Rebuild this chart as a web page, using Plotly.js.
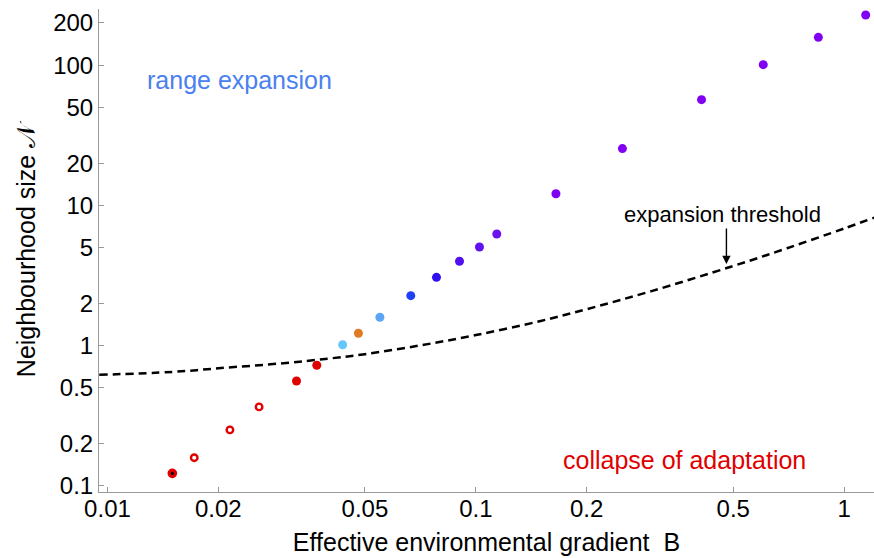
<!DOCTYPE html>
<html>
<head>
<meta charset="utf-8">
<script src="https://cdn.plot.ly/plotly-3.0.1.min.js"></script>
<style>html,body{margin:0;padding:0;background:#fff;}#chart{width:874px;height:558px;}</style>
</head>
<body>
<div id="chart"></div>
<script>
// Simulation points: effective environmental gradient B, neighbourhood size N
const gradientB = [0.0150, 0.0172, 0.0215, 0.0258, 0.0326, 0.0370, 0.0435, 0.0480, 0.0549, 0.0666,
                   0.0782, 0.0903, 0.1023, 0.114, 0.165, 0.250, 0.410, 0.603, 0.851, 1.144];
const neighbourhoodN = [0.123, 0.159, 0.251, 0.366, 0.560, 0.725, 1.016, 1.226, 1.594, 2.272,
                        3.07, 4.0, 5.05, 6.25, 12.1, 25.4, 56.7, 100.7, 157.8, 227.5];
const pointKind = ['core', 'open', 'open', 'open', 'filled', 'filled', 'filled', 'filled', 'filled', 'filled',
                   'filled', 'filled', 'filled', 'filled', 'filled', 'filled', 'filled', 'filled', 'filled', 'filled'];
const pointColor = ['#e00000', '#e00000', '#e00000', '#e00000', '#e00000', '#e00000', '#66c6ff', '#e07b22', '#5aa5f5', '#2040f5',
                    '#3010ee', '#5210f0', '#6210f0', '#6c10f0', '#7f00f3', '#7f00f3', '#7f00f3', '#7f00f3', '#7f00f3', '#7f00f3'];

// Expansion threshold curve
const thresholdB = [0.0095, 0.015, 0.02, 0.03, 0.04, 0.05, 0.07, 0.1, 0.15, 0.2, 0.3, 0.5, 0.7, 1.0, 1.21];
const thresholdN = [0.62, 0.65, 0.69, 0.75, 0.81, 0.87, 1.0, 1.19, 1.5, 1.82, 2.45, 3.7, 4.95, 6.85, 8.2];

const xTicks = [0.01, 0.02, 0.05, 0.1, 0.2, 0.5, 1];
const xTickText = ['0.01', '0.02', '0.05', '0.1', '0.2', '0.5', '1'];
const yTicks = [0.1, 0.2, 0.5, 1, 2, 5, 10, 20, 50, 100, 200];
const yTickText = ['0.1', '0.2', '0.5', '1', '2', '5', '10', '20', '50', '100', '200'];

function pick(arr, kind) { return arr.filter((_, i) => pointKind[i] === kind); }

const FONT = 'Liberation Sans, Arial, Helvetica, sans-serif';

const traces = [
  {
    x: thresholdB, y: thresholdN, mode: 'lines', type: 'scatter',
    line: {color: '#000', width: 2.5, dash: '8px,5px', shape: 'spline'},
    hoverinfo: 'skip'
  },
  {
    x: pick(gradientB, 'open'), y: pick(neighbourhoodN, 'open'), mode: 'markers', type: 'scatter',
    marker: {size: 6.5, color: '#ffffff', line: {color: pick(pointColor, 'open'), width: 2.4}}
  },
  {
    x: pick(gradientB, 'core'), y: pick(neighbourhoodN, 'core'), mode: 'markers', type: 'scatter',
    marker: {size: 6.5, color: '#000000', line: {color: pick(pointColor, 'core'), width: 3.2}}
  },
  {
    x: pick(gradientB, 'filled'), y: pick(neighbourhoodN, 'filled'), mode: 'markers', type: 'scatter',
    marker: {size: 9, color: pick(pointColor, 'filled'), line: {width: 0}}
  }
];

const layout = {
  width: 874, height: 558,
  margin: {l: 99, r: 0, t: 9, b: 66},
  paper_bgcolor: '#fff', plot_bgcolor: '#fff',
  showlegend: false,
  font: {family: FONT, color: '#000'},
  xaxis: {
    type: 'log', range: [-2.023, 0.081],
    tickvals: xTicks, ticktext: xTickText,
    ticks: 'inside', ticklen: 5, tickcolor: '#999', tickwidth: 1,
    ticklabelstandoff: -5,
    showline: true, linecolor: '#999', linewidth: 1,
    showgrid: false, zeroline: false,
    tickfont: {family: FONT, size: 24, color: '#000'},
    title: {text: 'Effective environmental gradient  B', font: {family: FONT, size: 25, color: '#000'}, standoff: 12},
    automargin: false
  },
  yaxis: {
    type: 'log', range: [-1.043, 2.40],
    tickvals: yTicks, ticktext: yTickText,
    ticks: 'inside', ticklen: 5, tickcolor: '#999', tickwidth: 1,
    showline: true, linecolor: '#999', linewidth: 1,
    showgrid: false, zeroline: false,
    tickfont: {family: FONT, size: 24, color: '#000'},
    title: {text: 'Neighbourhood size 𝒩', font: {family: FONT, size: 25, color: '#000'}, standoff: 10},
    automargin: false
  },
  annotations: [
    {xref: 'paper', yref: 'paper', x: 0.1819, y: 0.853, xanchor: 'center', yanchor: 'middle',
     text: 'range expansion', showarrow: false,
     font: {family: FONT, size: 25, color: '#4a80f0'}},
    {xref: 'paper', yref: 'paper', x: 0.756, y: 0.0663, xanchor: 'center', yanchor: 'middle',
     text: 'collapse of adaptation', showarrow: false,
     font: {family: FONT, size: 25, color: '#e00000'}},
    {xref: 'paper', yref: 'paper', x: 0.805, y: 0.5735, xanchor: 'center', yanchor: 'middle',
     text: 'expansion threshold', showarrow: false,
     font: {family: FONT, size: 22, color: '#000'}},
    {xref: 'x', yref: 'y', x: Math.log10(0.479), y: Math.log10(3.82), text: '', showarrow: true,
     ax: 0, ay: -37, arrowhead: 2, arrowsize: 1.2, arrowwidth: 1.4, arrowcolor: '#000', standoff: 0}
  ]
};

Plotly.newPlot('chart', traces, layout, {staticPlot: true, displayModeBar: false});
</script>
</body>
</html>
